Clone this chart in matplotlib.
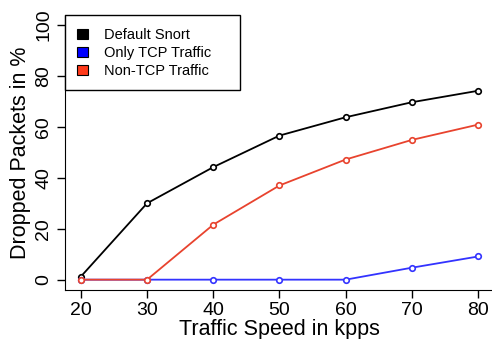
import numpy as np
import matplotlib.pyplot as plt
from matplotlib.patches import Patch, Rectangle

plt.rcParams['font.family'] = ['Liberation Sans', 'DejaVu Sans']

speed = [20, 30, 40, 50, 60, 70, 80]
default_snort = [1.2, 30, 44.2, 56.6, 63.8, 69.7, 74.2]
only_tcp = [0, 0, 0, 0, 0, 4.7, 9.1]
non_tcp = [0, 0, 21.6, 37, 47.2, 54.9, 60.9]

labels = ['Default Snort', 'Only TCP Traffic', 'Non-TCP Traffic']
line_colors = ['black', '#3333FF', '#E8432E']
fill_colors = ['black', '#0000FF', '#FF3A1A']

fig = plt.figure(figsize=(4.92, 3.39), dpi=100)
ax = fig.add_axes([0.132, 0.145, 0.872, 0.811])

for ys, col in [(default_snort, line_colors[0]), (only_tcp, line_colors[1]), (non_tcp, line_colors[2])]:
    ax.plot(speed, ys, color=col, lw=1.3, marker='o', ms=4.0,
            mfc='white', mec=col, mew=1.2)

ax.set_xlim(17.6, 82.4)
ax.set_ylim(-4, 104)
ax.set_xticks(speed)
ax.set_yticks([0, 20, 40, 60, 80, 100])
ax.set_yticklabels(['0', '20', '40', '60', '80', '100'], rotation=90, va='center')
ax.tick_params(labelsize=14, length=6, width=1, pad=3)
ax.spines['top'].set_visible(False)
ax.spines['right'].set_visible(False)
ax.set_xlabel('Traffic Speed in kpps', fontsize=15.5, labelpad=0)
ax.set_ylabel('Dropped Packets in %', fontsize=15.5, labelpad=3)

# legend box drawn separately (wider than matplotlib's default frame)
ax.add_patch(Rectangle((0, 1 - 0.273), 0.408, 0.273, transform=ax.transAxes,
                       facecolor='white', edgecolor='black', lw=1, zorder=4,
                       clip_on=False))
handles = [Patch(facecolor=fc, edgecolor='black', lw=0.8) for fc in fill_colors]
leg = ax.legend(handles, labels, loc='upper left', bbox_to_anchor=(0.0, 0.995),
                fontsize=10.5, frameon=False,
                borderaxespad=0, handlelength=0.75, handleheight=0.75,
                handletextpad=1.1, labelspacing=0.28, borderpad=0.8)
leg.set_zorder(5)

plt.savefig('out.png', dpi=100)
